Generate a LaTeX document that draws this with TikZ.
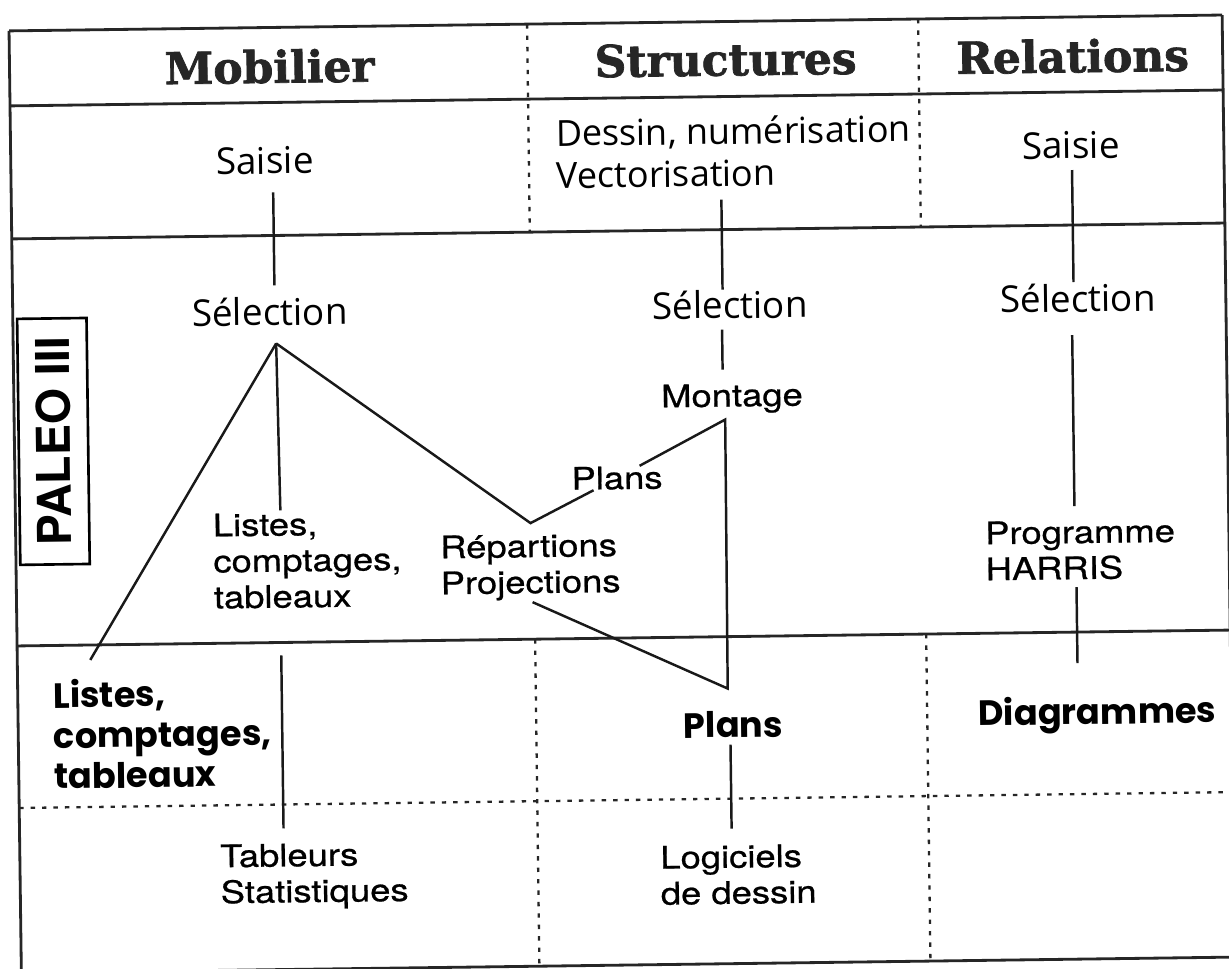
\documentclass[tikz,border=0pt]{standalone}
\usepackage{fontspec}
\setmainfont{TeX Gyre Heros}
\newfontfamily\helvfont{TeX Gyre Heros}[FakeStretch=1.17,FakeBold=0.7]
\newfontfamily\hdrfont{DejaVu Serif}[BoldFeatures={FakeBold=1.6}]
\newfontfamily\handfont{Open Sans}
\newfontfamily\rndfont{Poppins}
\usetikzlibrary{calc}
\begin{document}
\begin{tikzpicture}[
  hdr/.style={font=\hdrfont\bfseries\fontsize{25}{28}\selectfont, inner sep=0pt, text=black!85, transform shape},
  hand/.style={font=\handfont\fontsize{21}{24}\selectfont, inner sep=0pt, align=left, transform shape},
  helv/.style={font=\helvfont\fontsize{17.7}{20.5}\selectfont, inner sep=0pt, align=left, transform shape},
  rnd/.style={font=\rndfont\bfseries\fontsize{20}{23}\selectfont, inner sep=0pt, align=left, transform shape},
  frame/.style={line width=1.6pt, black!85},
  dotln/.style={line width=1.3pt, black!85, dash pattern=on 2.5pt off 4pt},
  conn/.style={line width=1.4pt, black!90},
]
\useasboundingbox (0,0) rectangle (24.58,-19.38);
\fill[white] (0,0) rectangle (24.58,-19.38);
\begin{scope}[rotate around={0.75:(12.29,-9.69)}]
\begin{scope}[x=0.02cm,y=-0.02cm]
% frame
\draw[frame] (15,23) -- (1228,23);
\draw[frame] (15,23) -- (15,975);
\draw[frame] (1228,23) -- (1228,975);
\draw[frame] (15,965) -- (1240,965);
\draw[frame] (15,98) -- (1228,98);
\draw[frame] (15,231) -- (1228,231);
\draw[frame] (15,638) -- (1240,638);
\draw[dotln] (15,800) -- (1240,800);
\draw[dotln] (533,23) -- (533,231);
\draw[dotln] (533,638) -- (533,965);
\draw[dotln] (924,23) -- (924,231);
\draw[dotln] (924,638) -- (924,965);

% headers
\node[hdr] (hM) at (275,62) {Mobilier};
\node[hdr] (hS) at (731,61) {Structures};
\node[hdr] (hR) at (1078,62) {Relations};

% row 2
\node[hand] (saisieM) at (269,156) {Saisie};
\node[hand, font=\handfont\fontsize{20.5}{24}\selectfont, anchor=west] (dessin) at (560,153) {Dessin, numérisation\\Vectorisation};
\node[hand] (saisieR) at (1075,151) {Saisie};

% row 3
\node[hand] (selM) at (272,307) {Sélection};
\node[hand] (selS) at (732,306) {Sélection};
\node[hand] (selR) at (1080,304) {Sélection};
\node[helv] (montage) at (733,400) {Montage};
\node[helv] (plansL) at (617,478) {Plans};
\node[helv, anchor=west] (listesR) at (212,556) {Listes,\\comptages,\\tableaux};
\node[helv, anchor=west] (repart) at (439,566) {Répartions\\Projections};
\node[helv, anchor=west] (prog) at (984,556) {Programme\\HARRIS};

\node[draw, line width=1.5pt, rotate=90, minimum width=140pt, minimum height=39.5pt, inner sep=0pt,
      font=\bfseries\fontsize{26.5}{27}\selectfont, transform shape] (paleo) at (54,434) {PALEO III};

% rows 4-5
\node[rnd, anchor=west] (listesB) at (50,727) {Listes,\\comptages,\\tableaux};
\node[rnd] (plansB) at (730,726) {Plans};
\node[rnd] (diag) at (1094,721) {Diagrammes};
\node[helv, anchor=west] (tabl) at (215,872) {Tableurs\\Statistiques};
\node[helv, anchor=west] (logic) at (655,876) {Logiciels\\de dessin};

% joints
\coordinate (apex) at ($(selM.center)+(6,32)$);
\coordinate (vR) at ($(repart.west)+(91,-44)$);
\coordinate (vM) at ($(montage.center)+(-7,21)$);
\coordinate (vB) at ($(plansB.center)+(-5,-36)$);

% Mobilier connectors
\draw[conn] ($(saisieM.center)+(8,32)$) -- ($(selM.center)+(5,-26)$);
\draw[conn] (apex) -- ($(listesB.west)+(38,-74)$);
\draw[conn] (apex) -- ($(listesR.west)+(68,-50)$);
\draw[conn] (apex) -- (vR) -- (plansL);
\draw[conn] (plansL) -- (vM) -- (vB) -- ($(repart.west)+(92,35)$);
\draw[conn] ($(listesR.west)+(67,95)$) -- ($(tabl.west)+(64,-48)$);

% Structures connectors
\draw[conn] ($(dessin.west)+(165,48)$) -- ($(selS.center)+(-7,-15)$);
\draw[conn] ($(selS.center)+(-8,25)$) -- ($(montage.center)+(-9,-29)$);
\draw[conn] ($(plansB.center)+(-3,20)$) -- ($(logic.west)+(72,-46)$);

% Relations connectors
\draw[conn] ($(saisieR.center)+(1,25)$) -- ($(selR.center)+(-4,-16)$);
\draw[conn] ($(selR.center)+(-6,37)$) -- ($(prog.west)+(90,-44)$);
\draw[conn] ($(prog.west)+(91,37)$) -- ($(diag.center)+(-19,-52)$);
\end{scope}
\end{scope}
\end{tikzpicture}
\end{document}
